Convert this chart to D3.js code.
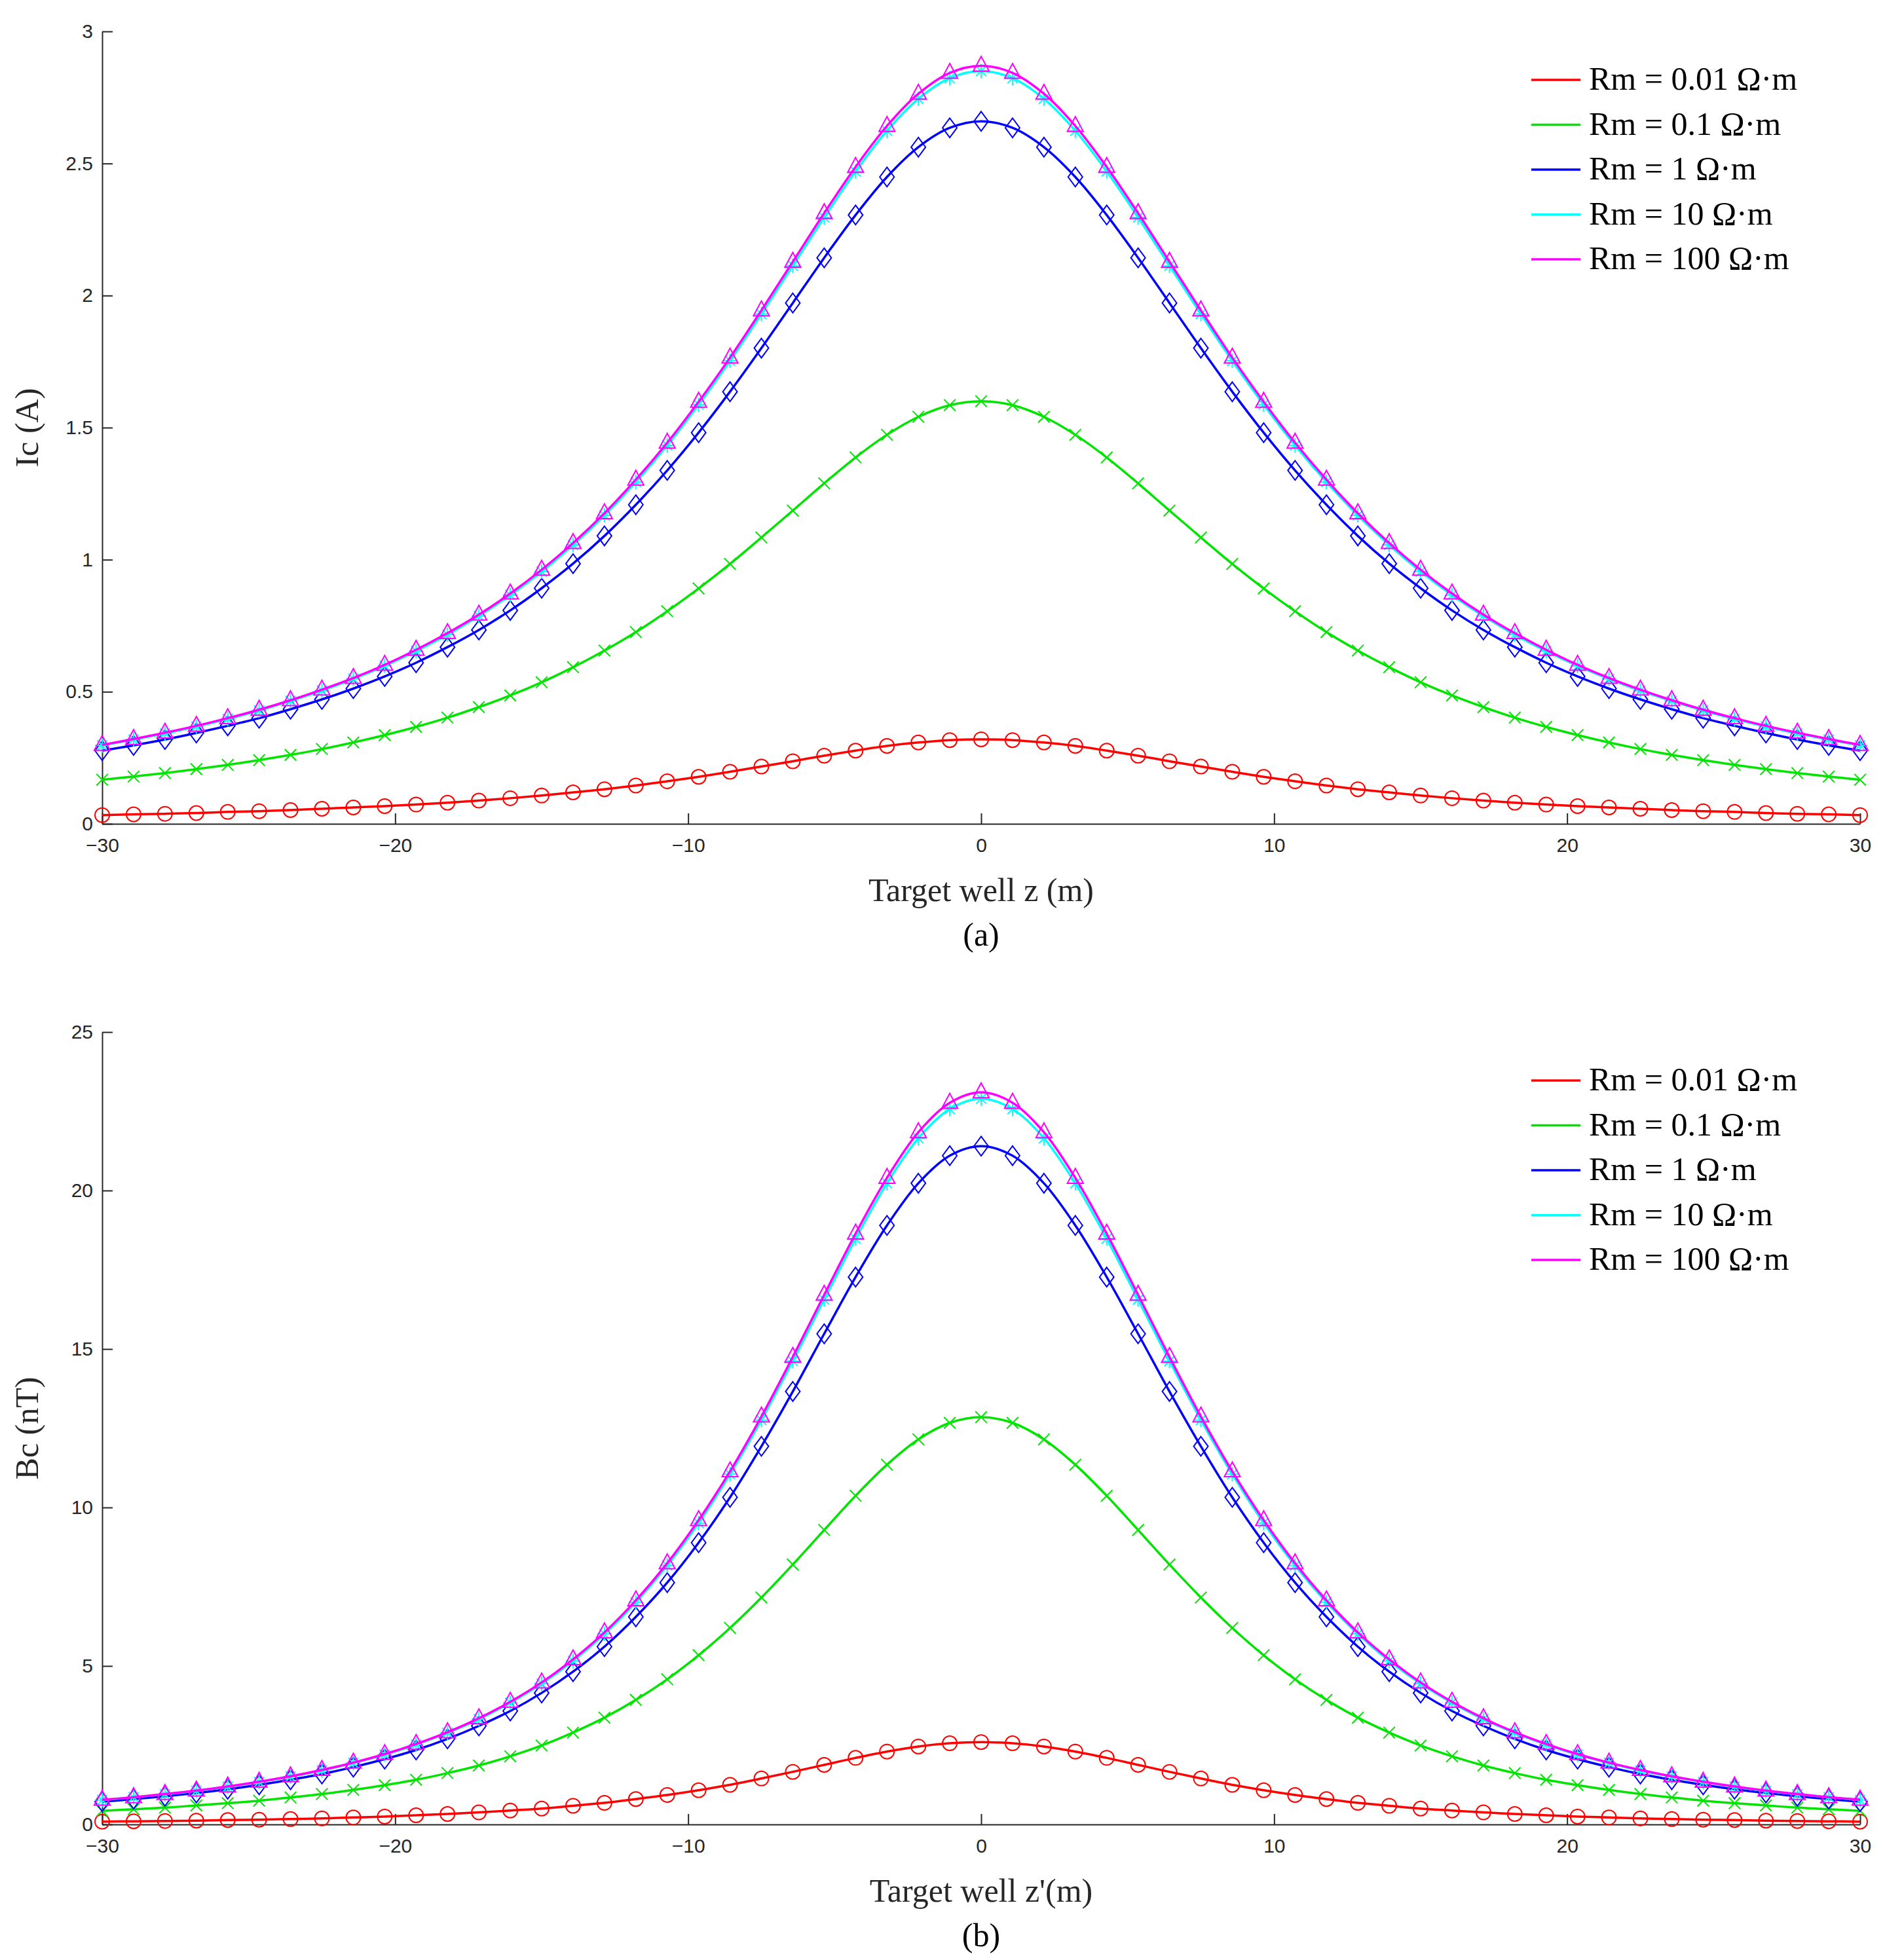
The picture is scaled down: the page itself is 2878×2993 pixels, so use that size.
<!DOCTYPE html>
<html>
<head>
<meta charset="utf-8">
<script src="https://cdn.jsdelivr.net/npm/d3@7"></script>
<style>
  body { margin: 0; background: #fff; }
  svg { display: block; }
</style>
</head>
<body>
<svg id="chart" width="2878" height="2993"></svg>
<script>
// sample positions along z (m): 57 markers from -30 to 30
const zValues = d3.range(57).map(i => -30 + i * 60 / 56);

const seriesNames = ['Rm = 0.01 Ω·m', 'Rm = 0.1 Ω·m', 'Rm = 1 Ω·m', 'Rm = 10 Ω·m', 'Rm = 100 Ω·m'];
const seriesColors = ['#ff0000', '#00e400', '#0000ff', '#00ffff', '#ff00ff'];
const seriesMarkers = ['circle', 'cross', 'diamond', 'star', 'triangle'];

// panel (a): Ic (A)
const icRm001 = [.033,.036,.038,.041,.045,.048,.052,.057,.062,.067,.073,.080,.088,.097,.107,.119,.131,.145,.161,.178,.197,.217,.237,.258,.277,.295,.308,.317,
  .320,.317,.308,.295,.277,.258,.237,.217,.197,.178,.161,.145,.131,.119,.107,.097,.088,.080,.073,.067,.062,.057,.052,.048,.045,.041,.038,.036,.033];
const icRm01 = [.167,.179,.192,.207,.223,.241,.261,.283,.308,.336,.367,.402,.442,.486,.536,.593,.656,.726,.805,.891,.984,1.084,1.186,1.289,1.387,1.473,1.541,1.585,
  1.600,1.585,1.541,1.473,1.387,1.289,1.186,1.084,.984,.891,.805,.726,.656,.593,.536,.486,.442,.402,.367,.336,.308,.283,.261,.241,.223,.207,.192,.179,.167];
const icRm1 = [.277,.297,.319,.344,.371,.400,.434,.471,.512,.558,.610,.669,.734,.808,.892,.985,1.090,1.208,1.338,1.481,1.636,1.801,1.972,2.143,2.305,2.449,2.562,2.635,
  2.660,2.635,2.562,2.449,2.305,2.143,1.972,1.801,1.636,1.481,1.338,1.208,1.090,.985,.892,.808,.734,.669,.610,.558,.512,.471,.434,.400,.371,.344,.319,.297,.277];
const icRm10 = [.297,.319,.342,.368,.397,.429,.465,.504,.549,.598,.654,.716,.787,.866,.955,1.056,1.168,1.294,1.433,1.587,1.753,1.930,2.113,2.296,2.470,2.624,2.745,2.823,
  2.850,2.823,2.745,2.624,2.470,2.296,2.113,1.930,1.753,1.587,1.433,1.294,1.168,1.056,.955,.866,.787,.716,.654,.598,.549,.504,.465,.429,.397,.368,.342,.319,.297];
const icRm100 = [.299,.321,.345,.371,.400,.432,.468,.508,.552,.602,.659,.722,.792,.872,.962,1.063,1.176,1.303,1.443,1.598,1.765,1.944,2.128,2.312,2.487,2.642,2.764,2.843,
  2.870,2.843,2.764,2.642,2.487,2.312,2.128,1.944,1.765,1.598,1.443,1.303,1.176,1.063,.962,.872,.792,.722,.659,.602,.552,.508,.468,.432,.400,.371,.345,.321,.299];

// panel (b): Bc (nT)
const bcRm001 = [.09,.10,.11,.12,.14,.15,.17,.19,.22,.25,.29,.33,.38,.44,.50,.59,.68,.80,.93,1.08,1.25,1.45,1.66,1.88,2.10,2.30,2.46,2.56,
  2.60,2.56,2.46,2.30,2.10,1.88,1.66,1.45,1.25,1.08,.93,.80,.68,.59,.50,.44,.38,.33,.29,.25,.22,.19,.17,.15,.14,.12,.11,.10,.09];
const bcRm01 = [.43,.48,.53,.60,.67,.75,.85,.96,1.09,1.24,1.41,1.62,1.86,2.15,2.49,2.90,3.37,3.93,4.58,5.34,6.20,7.16,8.20,9.29,10.37,11.35,12.15,12.67,
  12.85,12.67,12.15,11.35,10.37,9.29,8.20,7.16,6.20,5.34,4.58,3.93,3.37,2.90,2.49,2.15,1.86,1.62,1.41,1.24,1.09,.96,.85,.75,.67,.60,.53,.48,.43];
const bcRm1 = [.72,.80,.89,.99,1.11,1.25,1.41,1.59,1.81,2.06,2.35,2.70,3.11,3.58,4.15,4.82,5.61,6.55,7.63,8.89,10.32,11.93,13.66,15.48,17.27,18.90,20.23,21.10,
  21.40,21.10,20.23,18.90,17.27,15.48,13.66,11.93,10.32,8.89,7.63,6.55,5.61,4.82,4.15,3.58,3.11,2.70,2.35,2.06,1.81,1.59,1.41,1.25,1.11,.99,.89,.80,.72];
const bcRm10 = [.77,.86,.95,1.06,1.19,1.34,1.51,1.70,1.94,2.20,2.52,2.89,3.32,3.84,4.44,5.16,6.01,7.01,8.17,9.51,11.05,12.76,14.62,16.56,18.48,20.23,21.65,22.57,
  22.90,22.57,21.65,20.23,18.48,16.56,14.62,12.76,11.05,9.51,8.17,7.01,6.01,5.16,4.44,3.84,3.32,2.89,2.52,2.20,1.94,1.70,1.51,1.34,1.19,1.06,.95,.86,.77];
const bcRm100 = [.78,.86,.96,1.07,1.20,1.35,1.52,1.72,1.95,2.22,2.54,2.91,3.35,3.87,4.48,5.21,6.06,7.07,8.24,9.60,11.14,12.87,14.75,16.71,18.64,20.40,21.84,22.77,
  23.10,22.77,21.84,20.40,18.64,16.71,14.75,12.87,11.14,9.60,8.24,7.07,6.06,5.21,4.48,3.87,3.35,2.91,2.54,2.22,1.95,1.72,1.52,1.35,1.20,1.07,.96,.86,.78];

const xTicks = [-30, -20, -10, 0, 10, 20, 30];
const icTicks = [0, 0.5, 1, 1.5, 2, 2.5, 3];
const bcTicks = [0, 5, 10, 15, 20, 25];

const svg = d3.select('#chart');
const left = 156, right = 2840;

const panels = [
  {top: 48, bottom: 1258, yMax: 3, ticks: icTicks, ylabel: 'Ic (A)', xlabel: 'Target well z (m)', tag: '(a)',
   data: [icRm001, icRm01, icRm1, icRm10, icRm100], legendY: 122},
  {top: 1576, bottom: 2786, yMax: 25, ticks: bcTicks, ylabel: 'Bc (nT)', xlabel: "Target well z'(m)", tag: '(b)',
   data: [bcRm001, bcRm01, bcRm1, bcRm10, bcRm100], legendY: 1650}
];

function drawMarker(g, type, cx, cy, color) {
  const s = 11;
  const st = {stroke: color, 'stroke-width': 2, fill: 'none'};
  let el;
  if (type === 'circle') {
    el = g.append('circle').attr('cx', cx).attr('cy', cy).attr('r', s);
  } else if (type === 'cross') {
    el = g.append('path').attr('d', `M${cx - s * .8},${cy - s * .8}L${cx + s * .8},${cy + s * .8}M${cx - s * .8},${cy + s * .8}L${cx + s * .8},${cy - s * .8}`);
  } else if (type === 'diamond') {
    el = g.append('path').attr('d', `M${cx},${cy - s * 1.35}L${cx + s},${cy}L${cx},${cy + s * 1.35}L${cx - s},${cy}Z`);
  } else if (type === 'star') {
    el = g.append('path').attr('d', `M${cx},${cy - s}L${cx},${cy + s}M${cx - s},${cy}L${cx + s},${cy}M${cx - s * .7},${cy - s * .7}L${cx + s * .7},${cy + s * .7}M${cx - s * .7},${cy + s * .7}L${cx + s * .7},${cy - s * .7}`);
  } else {
    el = g.append('path').attr('d', `M${cx},${cy - s * 1.3}L${cx + s * 1.1},${cy + s * .75}L${cx - s * 1.1},${cy + s * .75}Z`);
  }
  Object.entries(st).forEach(([k, v]) => el.attr(k, v));
}

panels.forEach(p => {
  const x = d3.scaleLinear().domain([-30, 30]).range([left, right]);
  const y = d3.scaleLinear().domain([0, p.yMax]).range([p.bottom, p.top]);
  const g = svg.append('g');

  // axes (MATLAB style: ticks inside, no box)
  const xAxis = g.append('g').attr('transform', `translate(0,${p.bottom})`)
    .call(d3.axisBottom(x).tickValues(xTicks).tickSizeInner(-16).tickSizeOuter(0).tickPadding(22));
  const yAxis = g.append('g').attr('transform', `translate(${left},0)`)
    .call(d3.axisLeft(y).tickValues(p.ticks).tickSizeInner(-16).tickSizeOuter(0).tickPadding(14).tickFormat(d3.format('~g')));
  [xAxis, yAxis].forEach(a => {
    a.selectAll('path, line').attr('stroke', '#262626').attr('stroke-width', 2);
    a.selectAll('text').attr('font-family', 'Liberation Sans, Arial, sans-serif').attr('font-size', 30).attr('fill', '#262626');
  });

  const line = d3.line().x((d, i) => x(zValues[i])).y(d => y(d)).curve(d3.curveCatmullRom);
  p.data.forEach((vals, si) => {
    g.append('path').datum(vals).attr('d', line)
      .attr('fill', 'none').attr('stroke', seriesColors[si]).attr('stroke-width', 3.5);
    vals.forEach((v, i) => drawMarker(g, seriesMarkers[si], x(zValues[i]), y(v), seriesColors[si]));
  });

  // labels
  g.append('text').attr('transform', `translate(58,${(p.top + p.bottom) / 2}) rotate(-90)`)
    .attr('text-anchor', 'middle').attr('font-family', 'Liberation Serif, Times New Roman, serif')
    .attr('font-size', 50).attr('fill', '#262626').text(p.ylabel);
  g.append('text').attr('x', (left + right) / 2).attr('y', p.bottom + 118)
    .attr('text-anchor', 'middle').attr('font-family', 'Liberation Serif, Times New Roman, serif')
    .attr('font-size', 50).attr('fill', '#262626').text(p.xlabel);
  g.append('text').attr('x', (left + right) / 2).attr('y', p.bottom + 186)
    .attr('text-anchor', 'middle').attr('font-family', 'Liberation Serif, Times New Roman, serif')
    .attr('font-size', 50).attr('fill', '#000').text(p.tag);

  // legend
  seriesNames.forEach((name, si) => {
    const ly = p.legendY + si * 68.5;
    g.append('line').attr('x1', 2338).attr('x2', 2413).attr('y1', ly).attr('y2', ly)
      .attr('stroke', seriesColors[si]).attr('stroke-width', 3.5);
    g.append('text').attr('x', 2426).attr('y', ly + 15)
      .attr('font-family', 'Liberation Serif, Times New Roman, serif')
      .attr('font-size', 50).attr('fill', '#000').text(name);
  });
});
</script>
</body>
</html>
